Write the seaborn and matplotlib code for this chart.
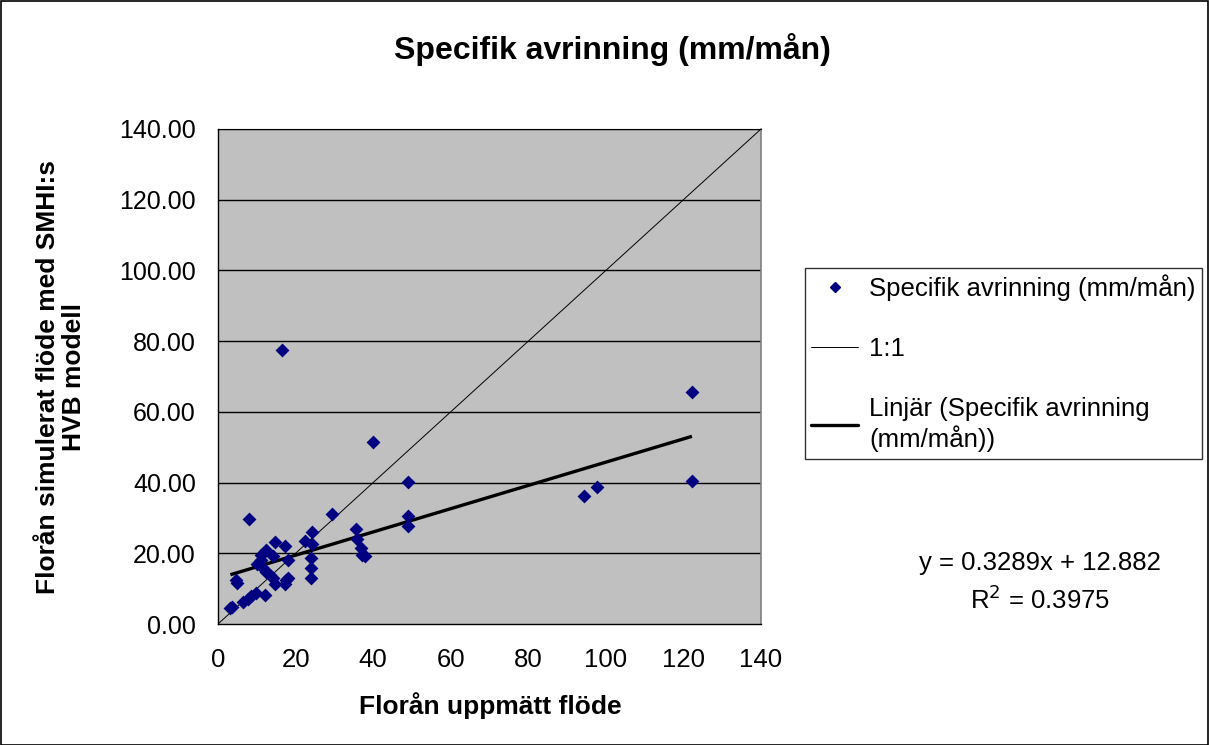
import numpy as np
import pandas as pd
import matplotlib
matplotlib.use("Agg")
import matplotlib.pyplot as plt
from matplotlib.lines import Line2D
from matplotlib.patches import Rectangle
import seaborn as sns

# ---- data ----
measured = [3.2, 3.6, 4.7, 4.9, 6.5, 7.7, 8.6, 9.9, 12.2, 7.9,
            10.1, 11.0, 11.2, 12.3, 11.6, 12.5, 13.3, 14.2, 14.8, 14.2,
            14.8, 17.2, 18.1, 17.6, 17.2, 18.1, 16.5, 22.5, 24.2, 24.2,
            24.1, 24.1, 24.1, 29.5, 35.6, 35.8, 36.9, 37.2, 38.0, 39.9,
            49.0, 49.0, 49.0, 94.4, 97.6, 122.2, 122.2]
simulated = [4.5, 4.9, 12.5, 11.5, 6.3, 7.0, 8.0, 8.8, 8.2, 29.7,
             17.0, 18.1, 19.5, 21.0, 15.8, 14.8, 13.9, 12.9, 11.2, 19.1,
             23.3, 22.1, 18.1, 12.5, 11.3, 12.9, 77.6, 23.6, 25.9, 22.5,
             18.7, 15.9, 13.0, 31.0, 26.9, 24.0, 21.5, 19.4, 19.2, 51.4,
             40.1, 30.5, 27.7, 36.3, 38.7, 65.7, 40.5]
slope = 0.3289
intercept = 12.882
r_squared = 0.3975
one_to_one = [0, 140]

title = "Specifik avrinning (mm/mån)"
xlabel = "Florån uppmätt flöde"
ylabel = "Florån simulerat flöde med SMHI:s\nHVB modell"
series_label = "Specifik avrinning (mm/mån)"
line_label = "1:1"
trend_label = "Linjär (Specifik avrinning\n(mm/mån))"
x_ticks = [0, 20, 40, 60, 80, 100, 120, 140]
y_ticks = [0, 20, 40, 60, 80, 100, 120, 140]

df = pd.DataFrame({"measured": measured, "simulated": simulated})

sns.set_style("white")
plt.rcParams["font.family"] = ["Liberation Sans", "DejaVu Sans"]
plt.rcParams["text.color"] = "black"
plt.rcParams["axes.labelcolor"] = "black"
plt.rcParams["xtick.color"] = "black"
plt.rcParams["ytick.color"] = "black"

W, H = 1209, 745
fig = plt.figure(figsize=(W / 100, H / 100), dpi=100)
ax = fig.add_axes([218 / W, 1 - 624 / H, (761 - 218) / W, (624 - 129) / H])
ax.set_facecolor("#C0C0C0")

# 1:1 line
ax.plot(one_to_one, one_to_one, color="black", lw=0.7, zorder=2)

# trendline from coefficients
xt = np.array([min(measured), max(measured)])
ax.plot(xt, slope * xt + intercept, color="black", lw=2.4, zorder=3,
        solid_capstyle="butt")

sns.scatterplot(data=df, x="measured", y="simulated", ax=ax, marker="D",
                s=50, color="#000080", edgecolor="#000080", linewidth=0,
                zorder=4, legend=False)

ax.set_xlim(0, 140)
ax.set_ylim(0, 140)
ax.set_xticks(x_ticks)
ax.set_yticks(y_ticks)
ax.set_xticklabels([str(t) for t in x_ticks])
ax.set_yticklabels([f"{t:.2f}" for t in y_ticks])
for t in y_ticks[1:]:
    ax.axhline(t, color="black", lw=1.0, zorder=1)

ax.tick_params(axis="both", direction="out", length=6, width=1,
               colors="black")
ax.tick_params(axis="x", pad=11, labelsize=18.5)
ax.tick_params(axis="y", pad=10, labelsize=18)
for side in ["left", "bottom"]:
    ax.spines[side].set_color("black")
    ax.spines[side].set_linewidth(1)
ax.spines["top"].set_color("black")
ax.spines["right"].set_color("#808080")
ax.spines["right"].set_linewidth(1.2)

ax.set_xlabel("")
ax.set_ylabel("")
fig.text(490 / W, 1 - 706 / H, xlabel, ha="center", va="center",
         fontsize=19, fontweight="bold")
fig.text(61 / W, 1 - 377 / H, ylabel, ha="center", va="center",
         fontsize=19, fontweight="bold", rotation=90, linespacing=1.15)
fig.text(612 / W, 1 - 50 / H, title, ha="center", va="center",
         fontsize=23, fontweight="bold")

# equation
fig.text(1040 / W, 1 - 563 / H, f"y = {slope}x + {intercept}", ha="center",
         va="center", fontsize=18.5)
fig.text(1040 / W, 1 - 600 / H, f"R$^2$ = {r_squared}", ha="center",
         va="center", fontsize=18.5)

handles = [
    Line2D([], [], marker="D", color="#000080", linestyle="none",
           markersize=5.5),
    Line2D([], [], color="black", lw=0.7),
    Line2D([], [], color="black", lw=2.4),
]
leg = fig.legend(handles, [series_label, line_label, trend_label],
                 loc="upper left", bbox_to_anchor=(805 / W, 1 - 268 / H),
                 frameon=True, fancybox=False, edgecolor="black",
                 fontsize=18.5, handlelength=1.8, handletextpad=0.45,
                 labelspacing=1.4, borderpad=0.25, borderaxespad=0)
leg.get_frame().set_linewidth(1)
leg.get_frame().set_facecolor("white")

# figure border
fig.patches.append(Rectangle((0.5 / W, 0.5 / H), 1 - 1.5 / W, 1 - 1.5 / H,
                             transform=fig.transFigure, fill=False,
                             edgecolor="black", lw=1.2))

fig.savefig("out.png", dpi=100, facecolor="white")
